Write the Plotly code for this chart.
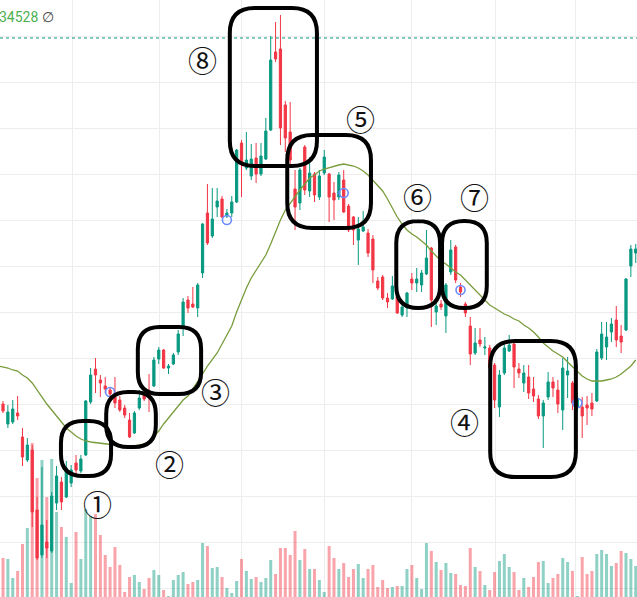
import plotly.graph_objects as go

# OHLC per candle (index 0..131)
opens = [31330, 30960, 30760, 30780, 30870, 30630, 30400, 30500, 29900, 29450,
         29580, 29490, 29970, 30180, 30030, 30170, 30370, 30290, 30450, 30980,
         31310, 31200, 31140, 31100, 31030, 31000, 30920, 30800, 30670, 30920,
         31060, 31060, 31140, 31410, 31500, 31320, 31360, 31480, 31730, 32000,
         31960, 31920, 32270, 32870, 32640, 32930, 33010, 32840, 32870, 32980,
         33570, 33320, 33240, 33420, 33260, 33410, 33700, 34480, 34510, 33950,
         33680, 33110, 32970, 33530, 33090, 33260, 33030, 33270, 33260, 33070,
         33030, 33200, 32940, 32830, 32600, 32690, 32670, 32610, 32190, 32230,
         32020, 32010, 32030, 31850, 31920, 32210, 32170, 32150, 32260, 32520,
         31880, 31960, 31840, 32280, 32530, 32130, 31960, 31740, 31470, 31600,
         31520, 31520, 31350, 30930, 31270, 31490, 31560, 31310, 31170, 31230,
         31110, 31010, 30840, 31030, 31180, 31100, 30900, 31250, 31170, 30920,
         30930, 30950, 30970, 30990, 31420, 31530, 31680, 31800, 31640, 31700,
         32340, 32470]
highs = [31380, 30990, 30950, 31000, 31040, 30720, 30620, 30550, 30030, 30330,
         29800, 30080, 30340, 30230, 30390, 30350, 30450, 30450, 31000, 31320,
         31420, 31250, 31230, 31120, 31230, 31040, 30950, 30870, 30890, 31100,
         31100, 31260, 31430, 31530, 31510, 31360, 31470, 31700, 32020, 32040,
         32130, 32170, 32770, 33160, 33120, 33120, 33040, 32910, 33040, 33510,
         33600, 33680, 33560, 33570, 33570, 33820, 34640, 34780, 34850, 33990,
         33980, 33300, 33320, 33550, 33430, 33280, 33300, 33500, 33270, 33180,
         33280, 33300, 32960, 32840, 32830, 32890, 32710, 32650, 32230, 32250,
         32070, 32240, 32070, 31950, 32080, 32270, 32320, 32300, 32700, 32530,
         32000, 32000, 32170, 32600, 32550, 32170, 31980, 31830, 31720, 31720,
         31630, 31550, 31370, 31300, 31550, 31650, 31570, 31370, 31350, 31350,
         31230, 31050, 31000, 31280, 31230, 31200, 31420, 31430, 31190, 31070,
         31030, 31040, 31070, 31510, 31780, 31780, 31820, 31940, 31750, 32220,
         32550, 32560]
lows = [31080, 30870, 30720, 30760, 30800, 30340, 30380, 29730, 29400, 29420,
        29420, 29470, 29900, 29900, 30020, 30130, 30230, 30270, 30440, 30960,
        31070, 31030, 31070, 31020, 30920, 30880, 30820, 30620, 30660, 30900,
        30990, 30880, 31130, 31360, 31310, 31260, 31350, 31450, 31640, 31870,
        31920, 31830, 32220, 32550, 32620, 32830, 32820, 32820, 32830, 32970,
        33030, 33300, 33200, 33170, 33240, 33400, 33690, 34380, 33550, 33480,
        33350, 32700, 32900, 33050, 33030, 32980, 33000, 33250, 32780, 32800,
        33000, 32870, 32680, 32550, 32350, 32680, 32430, 32170, 32100, 32000,
        31920, 32000, 31860, 31830, 31830, 32100, 32080, 32080, 32250, 31730,
        31750, 31900, 31670, 32250, 32170, 32030, 31830, 31350, 31450, 31530,
        31450, 31280, 30920, 30830, 31250, 31480, 31120, 31220, 31080, 31010,
        30980, 30810, 30520, 31000, 31030, 30870, 30700, 31020, 30900, 30880,
        30620, 30750, 30840, 30980, 31400, 31400, 31580, 31530, 31470, 31690,
        32230, 32370]
closes = [31100, 30890, 30880, 30910, 30840, 30430, 30550, 29880, 29420, 29750,
          29520, 30040, 30240, 29980, 30320, 30300, 30300, 30410, 30990, 31250,
          31250, 31170, 31110, 31060, 30970, 30900, 30850, 30630, 30870, 31020,
          31010, 31040, 31400, 31500, 31320, 31340, 31450, 31660, 31980, 31920,
          31930, 32150, 32760, 32570, 32810, 32990, 32830, 32870, 32980, 33500,
          33370, 33400, 33410, 33260, 33440, 33690, 34400, 34410, 33720, 33620,
          33400, 32930, 33300, 33100, 33270, 33050, 33240, 33430, 33030, 33000,
          33250, 32880, 32700, 32700, 32710, 32730, 32470, 32300, 32120, 32020,
          31980, 32140, 31870, 31930, 32070, 32170, 32210, 32270, 32420, 32000,
          31940, 31930, 32150, 32500, 32200, 32080, 31870, 31460, 31570, 31560,
          31530, 31320, 31000, 31250, 31520, 31550, 31330, 31270, 31270, 31070,
          31040, 30840, 30970, 31180, 31120, 30960, 31320, 31290, 30970, 31020,
          30840, 30920, 30910, 31480, 31660, 31630, 31760, 31600, 31580, 32210,
          32510, 32510]

# moving average as drawn on the chart
ma = [31340, 31330, 31320, 31300, 31290, 31250, 31220, 31170, 31100, 31020,
      30960, 30900, 30840, 30770, 30720, 30680, 30640, 30610, 30590, 30580,
      30575, 30570, 30565, 30560, 30550, 30540, 30535, 30530, 30540, 30550,
      30560, 30580, 30630, 30690, 30760, 30820, 30880, 30940, 31000, 31040,
      31110, 31180, 31260, 31340, 31400, 31470, 31560, 31650, 31740, 31880,
      32010, 32120, 32220, 32300, 32370, 32450, 32560, 32690, 32800, 32900,
      32970, 33040, 33100, 33160, 33220, 33250, 33290, 33310, 33325, 33340,
      33350, 33360, 33350, 33340, 33320, 33290, 33250, 33200, 33140, 33090,
      33010, 32920, 32830, 32760, 32700, 32660, 32630, 32590, 32550, 32490,
      32440, 32390, 32360, 32320, 32280, 32250, 32200, 32150, 32100, 32050,
      32000, 31950, 31920, 31890, 31860, 31840, 31810, 31790, 31750, 31720,
      31680, 31630, 31570, 31530, 31490, 31460, 31430, 31380, 31330, 31290,
      31240, 31210, 31190, 31190, 31190, 31200, 31210, 31230, 31260, 31300,
      31340, 31400]

volumes = [30, 39, 38, 19, 26, 53, 69, 154, 119, 137,
           100, 138, 85, 70, 60, 14, 65, 38, 88, 81,
           83, 62, 42, 30, 50, 32, 5, 20, 22, 15,
           8, 19, 27, 22, 7, 1, 17, 22, 25, 13,
           15, 17, 54, 51, 29, 30, 20, 9, 4, 16,
           38, 26, 18, 20, 15, 19, 37, 23, 49, 49,
           42, 66, 37, 48, 28, 28, 17, 5, 51, 39,
           28, 34, 20, 28, 33, 19, 28, 32, 10, 17,
           9, 10, 11, 11, 28, 32, 19, 8, 54, 46,
           35, 27, 34, 24, 23, 12, 11, 49, 30, 26,
           12, 7, 25, 36, 43, 30, 25, 7, 19, 10,
           20, 35, 36, 14, 19, 23, 39, 35, 26, 1,
           40, 23, 26, 43, 47, 43, 31, 34, 46, 44,
           38, 31]

# session markers (open blue circles)
marker_idx = [23, 47, 71, 95, 119]
marker_price = [31080, 32800, 33070, 32100, 30970]

last_price = 34620
grid_x = [15.2, 33.2, 49.9, 67.0, 85.0, 102.1, 118.7]

# hand-drawn highlight boxes: (label, x0, x1, y_top, y_bottom, corner px)
boxes = [
    ("①", 12.9, 23.2, 30790, 30240, 22),
    ("②", 22.2, 32.4, 31080, 30530, 22),
    ("③", 28.7, 41.7, 31730, 31060, 22),
    ("④", 101.1, 118.7, 31590, 30230, 25),
    ("⑤", 59.4, 76.6, 33650, 32720, 25),
    ("⑥", 81.8, 90.8, 32790, 31920, 22),
    ("⑦", 91.2, 100.4, 32790, 31920, 22),
    ("⑧", 47.6, 65.5, 34920, 33340, 25),
]
label_x = [20.4, 35.2, 44.6, 95.9, 74.4, 86.1, 97.9, 42.0]
label_y = [29973, 30373, 31090, 30793, 33817, 33040, 33040, 34407]

W, H = 637, 597
X_RANGE = [0.38, 131.26]
Y_RANGE = [29030, 35000]

UP = "#089981"
DOWN = "#F23645"

idx = list(range(len(opens)))
vol_colors = [
    "rgba(8,153,129,0.45)" if c >= o else "rgba(242,54,69,0.45)"
    for o, c in zip(opens, closes)
]

fig = go.Figure()

fig.add_trace(
    go.Bar(
        x=idx,
        y=volumes,
        width=0.62,
        marker=dict(color=vol_colors, line=dict(width=0)),
        yaxis="y2",
        hoverinfo="skip",
    )
)

fig.add_trace(
    go.Scatter(
        x=idx,
        y=ma,
        mode="lines",
        line=dict(color="#789c3c", width=1.3),
        hoverinfo="skip",
    )
)

fig.add_trace(
    go.Candlestick(
        x=idx,
        open=opens,
        high=highs,
        low=lows,
        close=closes,
        increasing=dict(line=dict(color=UP, width=1), fillcolor=UP),
        decreasing=dict(line=dict(color=DOWN, width=1), fillcolor=DOWN),
        whiskerwidth=0,
    )
)

fig.add_trace(
    go.Scatter(
        x=marker_idx,
        y=marker_price,
        mode="markers",
        marker=dict(
            symbol="circle-open", size=9, color="#6a8cff", line=dict(width=1.6)
        ),
        hoverinfo="skip",
    )
)

fig.add_shape(
    type="line",
    xref="paper",
    x0=0,
    x1=1,
    y0=last_price,
    y1=last_price,
    line=dict(color=UP, width=1, dash="dot"),
)

# rounded rectangles, corner radius given in pixels
px_per_x = W / (X_RANGE[1] - X_RANGE[0])
units_per_py = (Y_RANGE[1] - Y_RANGE[0]) / H


def rounded_box(x0, x1, y_top, y_bot, r):
    rx = r / px_per_x
    ry = r * units_per_py
    return (
        f"M {x0 + rx},{y_top} L {x1 - rx},{y_top} "
        f"Q {x1},{y_top} {x1},{y_top - ry} "
        f"L {x1},{y_bot + ry} Q {x1},{y_bot} {x1 - rx},{y_bot} "
        f"L {x0 + rx},{y_bot} Q {x0},{y_bot} {x0},{y_bot + ry} "
        f"L {x0},{y_top - ry} Q {x0},{y_top} {x0 + rx},{y_top} Z"
    )


for (label, x0, x1, yt, yb, r) in boxes:
    fig.add_shape(
        type="path",
        path=rounded_box(x0, x1, yt, yb, r),
        line=dict(color="black", width=4),
    )

for (label, *_), lx, ly in zip(boxes, label_x, label_y):
    fig.add_annotation(
        x=lx,
        y=ly,
        text=label,
        showarrow=False,
        font=dict(family="Noto Sans CJK JP", size=29, color="#111111"),
    )

fig.add_annotation(
    xref="paper",
    yref="paper",
    x=-0.004,
    y=1 - 17 / H,
    xanchor="left",
    yanchor="middle",
    text="34528 <span style='color:#444444'>∅</span>",
    showarrow=False,
    font=dict(family="Roboto", size=14, color="#4caf50"),
)

fig.update_layout(
    width=W,
    height=H,
    margin=dict(l=0, r=0, t=0, b=0),
    paper_bgcolor="white",
    plot_bgcolor="white",
    showlegend=False,
    boxgap=0.35,
    xaxis=dict(
        range=X_RANGE,
        rangeslider=dict(visible=False),
        tickmode="array",
        tickvals=grid_x,
        showticklabels=False,
        showgrid=True,
        gridcolor="#ededed",
        zeroline=False,
        showline=False,
    ),
    yaxis=dict(
        range=Y_RANGE,
        tick0=34640,
        dtick=460,
        showticklabels=False,
        showgrid=True,
        gridcolor="#ededed",
        zeroline=False,
        showline=False,
    ),
    yaxis2=dict(
        range=[0, H],
        overlaying="y",
        showticklabels=False,
        showgrid=False,
        zeroline=False,
    ),
)

# the page's default body margin would shift the figure by 8px
fig.write_html(
    "out.html",
    config={"displayModeBar": False},
    post_script="document.body.style.margin='0';",
)
